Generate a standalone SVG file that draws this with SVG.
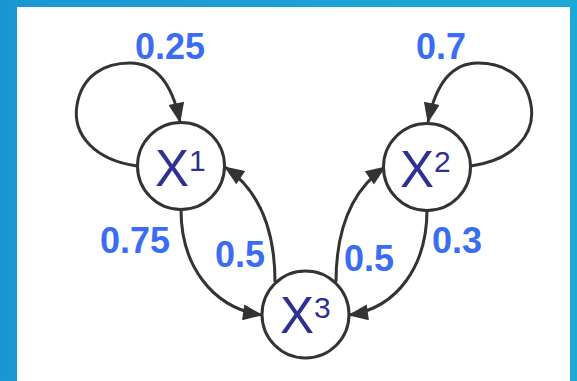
<svg xmlns="http://www.w3.org/2000/svg" width="577" height="381" viewBox="0 0 577 381">
  <defs>
    <linearGradient id="bg" x1="0" y1="0" x2="1" y2="0">
      <stop offset="0" stop-color="#1a97d1"/>
      <stop offset="1" stop-color="#1daad9"/>
    </linearGradient>
    <marker id="arr" markerUnits="userSpaceOnUse" markerWidth="22" markerHeight="16" viewBox="0 0 20 16" refX="19" refY="8" orient="auto">
      <path d="M0,0 L20,8 L0,16 Z" fill="#333"/>
    </marker>
    <style>
      .node circle { fill: #fff; stroke: #333; stroke-width: 3; }
      .node text { font-family: "Liberation Sans", Arial, sans-serif; fill: #2e3192; font-size: 51px; }
      .node tspan.sup { font-size: 30px; }
      .edge { fill: none; stroke: #333; stroke-width: 3; marker-end: url(#arr); }
      .lbl { font-family: "Liberation Sans", Arial, sans-serif; font-weight: bold; font-size: 36px; fill: #3a6cf4; }
    </style>
  </defs>
  <rect x="0" y="0" width="577" height="381" fill="url(#bg)"/>
  <rect x="17" y="7" width="553" height="374" fill="#fff"/>

  <g id="connectors">
    <path class="edge" d="M137,166 C95,160 72,135 77,105 C82,75 105,63 130,63 C155,63 172,82 180,122"/>
    <path class="edge" d="M471,166 C513,160 536,135 531,105 C526,75 503,63 478,63 C453,63 436,82 428,122"/>
    <path class="edge" d="M181,210 C181,265 212,308 262,315"/>
    <path class="edge" d="M275,282 C275,235 262,192 225,167"/>
    <path class="edge" d="M336,282 C336,235 349,192 385,167"/>
    <path class="edge" d="M427,210 C427,265 398,308 349,315"/>
  </g>

  <g id="labels">
    <text class="lbl" x="135" y="59">0.25</text>
    <text class="lbl" x="416" y="59">0.7</text>
    <text class="lbl" x="100" y="253">0.75</text>
    <text class="lbl" x="215" y="267">0.5</text>
    <text class="lbl" x="344" y="271">0.5</text>
    <text class="lbl" x="432" y="253">0.3</text>
  </g>

  <g id="X1" class="node">
    <circle cx="181" cy="166" r="43.5"/>
    <text x="155" y="186">X<tspan class="sup" dy="-15">1</tspan></text>
  </g>
  <g id="X2" class="node">
    <circle cx="427" cy="167" r="43.5"/>
    <text x="400" y="186.5">X<tspan class="sup" dy="-15">2</tspan></text>
  </g>
  <g id="X3" class="node">
    <circle cx="305.5" cy="314.5" r="43.5"/>
    <text x="280" y="333">X<tspan class="sup" dy="-15">3</tspan></text>
  </g>
</svg>
